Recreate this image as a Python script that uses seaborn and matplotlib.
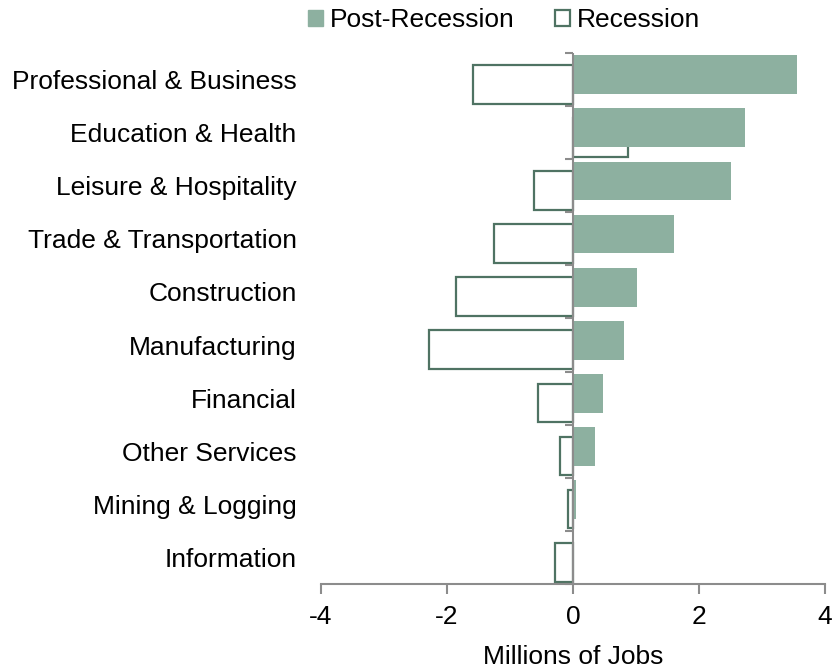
import numpy as np
import pandas as pd
import matplotlib.pyplot as plt
import seaborn as sns
from matplotlib.patches import Patch

# ================================
# Data (millions of jobs)
# ================================
sectors = ["Professional & Business", "Education & Health", "Leisure & Hospitality",
           "Trade & Transportation", "Construction", "Manufacturing", "Financial",
           "Other Services", "Mining & Logging", "Information"]
post_recession = [3.56, 2.73, 2.51, 1.60, 1.01, 0.81, 0.48, 0.35, 0.05, 0.02]
recession = [-1.59, 0.88, -0.62, -1.25, -1.85, -2.29, -0.55, -0.20, -0.08, -0.29]
x_ticks = [-4, -2, 0, 2, 4]

green = "#8DB0A0"
edge_green = "#4F7363"
gray = "#8C8C8C"
fs = 19

pos = np.arange(len(sectors))
df = pd.DataFrame({"pos": pos, "post": post_recession, "rec": recession})

# ================================
# Style
# ================================
sns.set_style("white")
plt.rcParams["font.family"] = ["Liberation Sans", "DejaVu Sans"]
plt.rcParams["font.size"] = fs
plt.rcParams["text.color"] = "black"
plt.rcParams["xtick.color"] = "black"
plt.rcParams["ytick.color"] = "black"
plt.rcParams["axes.labelcolor"] = "black"

fig = plt.figure(figsize=(8.33, 6.69), dpi=100)
ax = fig.add_axes([0.3854, 0.1271, 0.605, 0.7937])

# Recession bars (outlined, slightly below), drawn first
sns.barplot(x=df["rec"], y=df["pos"] + 0.09, orient="y", native_scale=True, width=0.73,
            color="white", edgecolor=edge_green, linewidth=1.6, errorbar=None, ax=ax,
            zorder=2)
# Post-recession bars (filled, slightly above)
sns.barplot(x=df["post"], y=df["pos"] - 0.09, orient="y", native_scale=True, width=0.73,
            color=green, saturation=1, linewidth=0, errorbar=None, ax=ax, zorder=3)

# Axes
ax.set_xlim(-4, 4)
ax.set_ylim(len(sectors) - 0.5, -0.5)
ax.set_xticks(x_ticks)
ax.set_xticklabels([str(t) for t in x_ticks])
ax.set_yticks(pos)
ax.set_yticklabels(sectors)
ax.tick_params(axis="y", left=False, length=0, pad=17.5, labelsize=fs, labelcolor="black")
ax.tick_params(axis="x", bottom=True, direction="out", length=7, width=1.5, color=gray,
               labelsize=fs, labelcolor="black", pad=8.5)
ax.set_xlabel("Millions of Jobs", fontsize=fs, labelpad=11, color="black")
ax.set_ylabel("")

for side in ["top", "right", "left"]:
    ax.spines[side].set_visible(False)
ax.spines["bottom"].set_color(gray)
ax.spines["bottom"].set_linewidth(1.5)

# Category axis at zero with boundary ticks
bounds = np.arange(-0.5, len(sectors), 1.0)
ax.vlines(0, -0.5, len(sectors) - 0.5, color=gray, lw=1.5, zorder=4, clip_on=False)
ax.hlines(bounds, -0.127, 0, color=gray, lw=1.5, zorder=4, clip_on=False)

# Legend
handles = [Patch(facecolor=green, edgecolor=green, label="Post-Recession"),
           Patch(facecolor="white", edgecolor=edge_green, linewidth=1.6, label="Recession")]
fig.legend(handles=handles, loc="center", bbox_to_anchor=(0.605, 0.970), ncol=2,
           frameon=False, fontsize=fs, handlelength=0.57, handleheight=0.57,
           handletextpad=0.25, columnspacing=1.55, borderpad=0)

plt.savefig("out.png", dpi=100)
